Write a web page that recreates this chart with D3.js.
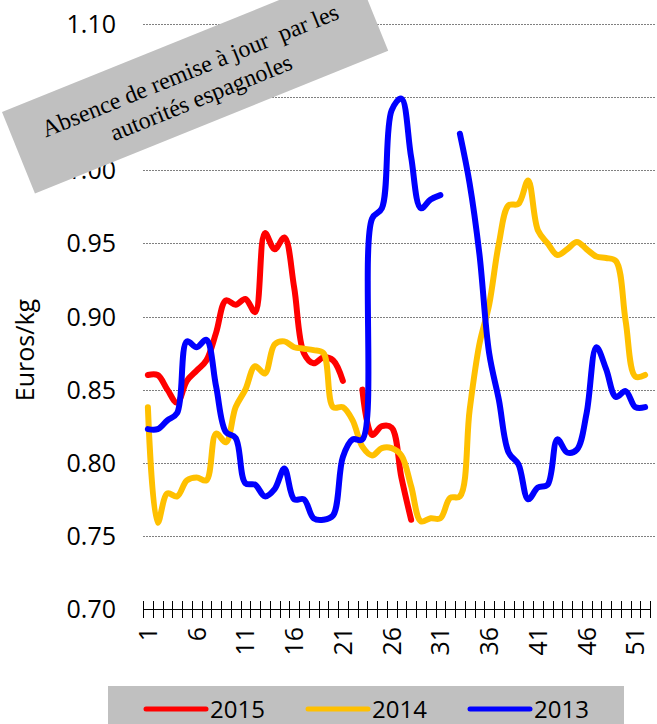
<!DOCTYPE html>
<html>
<head>
<meta charset="utf-8">
<script src="https://cdn.jsdelivr.net/npm/d3@7"></script>
<style>
  body { margin: 0; background: #fff; }
  svg text { font-family: "Open Sans", sans-serif; fill: #000; }
  .grid line { stroke: #808080; stroke-width: 1; stroke-dasharray: 2,1; }
  .serie { fill: none; stroke-width: 6; stroke-linecap: round; stroke-linejoin: round; }
</style>
</head>
<body>
<div id="chart"></div>
<script>
var width = 657,
    height = 724;

// weeks 1..52
var weeks = d3.range(1, 53);

var prix2015 = [0.860, 0.860, 0.850, 0.841, 0.856, 0.863, 0.870, 0.889, 0.911, 0.908,
    0.912, 0.903, 0.957, 0.946, 0.954, 0.920, 0.875, 0.868, 0.872, 0.870,
    0.856, null, 0.850, 0.819, 0.825, 0.824, 0.790, 0.761, null, null,
    null, null, null, null, null, null, null, null, null, null,
    null, null, null, null, null, null, null, null, null, null,
    null, null];

var prix2014 = [0.838, 0.759, 0.779, 0.777, 0.788, 0.790, 0.788, 0.820, 0.814, 0.838,
    0.850, 0.866, 0.861, 0.881, 0.883, 0.879, 0.878, 0.877, 0.875, 0.838,
    0.838, 0.829, 0.811, 0.805, 0.810, 0.810, 0.805, 0.784, 0.760, 0.762,
    0.762, 0.776, 0.777, 0.836, 0.881, 0.908, 0.950, 0.976, 0.977, 0.993,
    0.959, 0.950, 0.942, 0.946, 0.951, 0.946, 0.941, 0.940, 0.938, 0.897,
    0.859, 0.860];

var prix2013 = [0.823, 0.823, 0.829, 0.834, 0.883, 0.879, 0.884, 0.852, 0.821, 0.817,
    0.786, 0.785, 0.777, 0.782, 0.796, 0.775, 0.775, 0.762, 0.761, 0.764,
    0.804, 0.816, 0.816, 0.967, 0.974, 1.041, 1.049, 1.009, 0.974, 0.980,
    0.983, null, 1.025, 0.991, 0.943, 0.875, 0.843, 0.807, 0.799, 0.775,
    0.783, 0.785, 0.816, 0.807, 0.809, 0.834, 0.879, 0.864, 0.845, 0.849,
    0.838, 0.838];

var yTicks = [0.70, 0.75, 0.80, 0.85, 0.90, 0.95, 1.00, 1.05, 1.10];
var xLabels = [1, 6, 11, 16, 21, 26, 31, 36, 41, 46, 51];

var series = [
    { name: '2015', color: '#ff0000', values: prix2015 },
    { name: '2014', color: '#ffc000', values: prix2014 },
    { name: '2013', color: '#0000ff', values: prix2013 }
];

var svg = d3.select('#chart')
    .append('svg')
    .attr('width', width)
    .attr('height', height);

var x = d3.scaleBand()
    .domain(weeks)
    .range([143, 650]);

var y = d3.scaleLinear()
    .domain([0.70, 1.10])
    .range([609, 24]);

var cx = d => x(d) + x.bandwidth() / 2;

// gridlines
svg.append('g')
    .attr('class', 'grid')
    .selectAll('line')
    .data(yTicks.slice(1))
    .enter()
    .append('line')
    .attr('x1', 143)
    .attr('x2', 656)
    .attr('y1', d => Math.round(y(d)) + 0.5)
    .attr('y2', d => Math.round(y(d)) + 0.5);

// y labels
svg.append('g')
    .selectAll('text')
    .data(yTicks)
    .enter()
    .append('text')
    .attr('x', 116)
    .attr('y', d => y(d))
    .attr('dy', '0.36em')
    .attr('text-anchor', 'end')
    .style('font-size', '25px')
    .text(d => d.toFixed(2));

svg.append('text')
    .attr('transform', 'translate(25,350) rotate(-90)')
    .attr('dy', '0.36em')
    .attr('text-anchor', 'middle')
    .style('font-size', '25px')
    .text('Euros/kg');

// x axis
var xAxis = svg.append('g');
xAxis.append('line')
    .attr('x1', 143)
    .attr('x2', 651)
    .attr('y1', 609.5)
    .attr('y2', 609.5)
    .attr('stroke', '#000');

xAxis.selectAll('.tick')
    .data(weeks.concat([53]))
    .enter()
    .append('line')
    .attr('x1', d => Math.round(d === 53 ? x(52) + x.bandwidth() : x(d)) + 0.5)
    .attr('x2', d => Math.round(d === 53 ? x(52) + x.bandwidth() : x(d)) + 0.5)
    .attr('y1', 601)
    .attr('y2', 618)
    .attr('stroke', '#000');

xAxis.selectAll('text')
    .data(xLabels)
    .enter()
    .append('text')
    .attr('transform', d => 'translate(' + cx(d) + ',627) rotate(-90)')
    .attr('dy', '0.36em')
    .attr('text-anchor', 'end')
    .style('font-size', '25px')
    .text(d => d);

// lines
var line = d3.line()
    .defined(d => d[1] != null)
    .x(d => cx(d[0]))
    .y(d => y(d[1]))
    .curve(d3.curveCatmullRom.alpha(0.5));

svg.selectAll('.serie')
    .data(series)
    .enter()
    .append('path')
    .attr('class', 'serie')
    .attr('stroke', d => d.color)
    .attr('d', d => line(weeks.map((w, i) => [w, d.values[i]])));

// annotation box
var note = svg.append('g')
    .attr('transform', 'translate(2,112) rotate(-22)');
note.append('rect')
    .attr('width', 381)
    .attr('height', 88)
    .attr('fill', '#c0c0c0');
note.append('text')
    .attr('x', 190)
    .attr('y', 40)
    .attr('text-anchor', 'middle')
    .style('font-family', '"Liberation Serif", "Times New Roman", serif')
    .style('font-size', '24px')
    .style('white-space', 'pre')
    .text('Absence de remise à jour  par les');
note.append('text')
    .attr('x', 190)
    .attr('y', 69)
    .attr('text-anchor', 'middle')
    .style('font-family', '"Liberation Serif", "Times New Roman", serif')
    .style('font-size', '24px')
    .text('autorités espagnoles');

// legend
var legend = svg.append('g');
legend.append('rect')
    .attr('x', 108)
    .attr('y', 686)
    .attr('width', 516)
    .attr('height', 38)
    .attr('fill', '#c0c0c0');

var item = legend.selectAll('.item')
    .data(series)
    .enter()
    .append('g')
    .attr('transform', (d, i) => 'translate(' + (146 + i * 162) + ',709)');
item.append('line')
    .attr('x1', 0)
    .attr('x2', 60)
    .attr('stroke', d => d.color)
    .attr('stroke-width', 5)
    .attr('stroke-linecap', 'round');
item.append('text')
    .attr('x', 64)
    .attr('dy', '0.36em')
    .style('font-size', '24px')
    .text(d => d.name);
</script>
</body>
</html>
